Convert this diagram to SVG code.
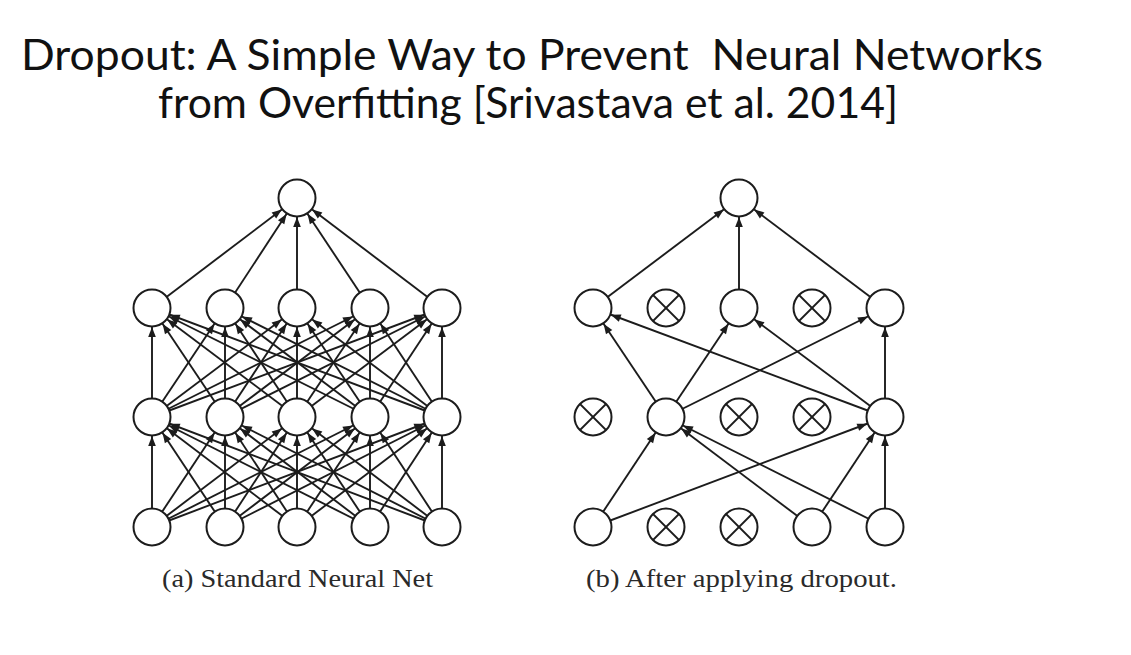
<svg xmlns="http://www.w3.org/2000/svg" width="1131" height="655" viewBox="0 0 1131 655">
<style>
.title{font-family:Lato,"Open Sans","Noto Sans",sans-serif;font-size:43px;fill:#111}
.cap{font-family:"Liberation Serif","DejaVu Serif",serif;font-size:25px;fill:#2a2a2a}
.e line{stroke:#1c1c1c;stroke-width:1.9;marker-end:url(#ah)}
.n{fill:#fff;stroke:#1c1c1c;stroke-width:2}
.x{stroke:#1c1c1c;stroke-width:1.8}
</style>
<defs>
<marker id="ah" markerUnits="userSpaceOnUse" viewBox="0 0 40 10" markerWidth="40" markerHeight="10" refX="40" refY="5" orient="auto">
<path d="M11 1.2 L21 5 L11 8.8 z" fill="#1c1c1c"/>
</marker>
<g id="drop"><circle class="n" r="18.5"/><line class="x" x1="-13" y1="-13" x2="13" y2="13"/><line class="x" x1="-13" y1="13" x2="13" y2="-13"/></g>
</defs>
<rect width="1131" height="655" fill="#fff"/>
<text class="title" x="21" y="70" textLength="1022" lengthAdjust="spacingAndGlyphs" xml:space="preserve">Dropout: A Simple Way to Prevent  Neural Networks</text>
<text class="title" x="158" y="118" textLength="740" lengthAdjust="spacingAndGlyphs">from Overfitting [Srivastava et al. 2014]</text>
<g id="connectors" class="e">
<!-- left: hidden1 -> output -->
<line x1="152" y1="308" x2="297" y2="198"/><line x1="225" y1="308" x2="297" y2="198"/><line x1="297" y1="308" x2="297" y2="198"/><line x1="370" y1="308" x2="297" y2="198"/><line x1="442" y1="308" x2="297" y2="198"/>
<!-- left: hidden2 -> hidden1 -->
<line x1="152" y1="417" x2="152" y2="308"/><line x1="152" y1="417" x2="225" y2="308"/><line x1="152" y1="417" x2="297" y2="308"/><line x1="152" y1="417" x2="370" y2="308"/><line x1="152" y1="417" x2="442" y2="308"/>
<line x1="225" y1="417" x2="152" y2="308"/><line x1="225" y1="417" x2="225" y2="308"/><line x1="225" y1="417" x2="297" y2="308"/><line x1="225" y1="417" x2="370" y2="308"/><line x1="225" y1="417" x2="442" y2="308"/>
<line x1="297" y1="417" x2="152" y2="308"/><line x1="297" y1="417" x2="225" y2="308"/><line x1="297" y1="417" x2="297" y2="308"/><line x1="297" y1="417" x2="370" y2="308"/><line x1="297" y1="417" x2="442" y2="308"/>
<line x1="370" y1="417" x2="152" y2="308"/><line x1="370" y1="417" x2="225" y2="308"/><line x1="370" y1="417" x2="297" y2="308"/><line x1="370" y1="417" x2="370" y2="308"/><line x1="370" y1="417" x2="442" y2="308"/>
<line x1="442" y1="417" x2="152" y2="308"/><line x1="442" y1="417" x2="225" y2="308"/><line x1="442" y1="417" x2="297" y2="308"/><line x1="442" y1="417" x2="370" y2="308"/><line x1="442" y1="417" x2="442" y2="308"/>
<!-- left: input -> hidden2 -->
<line x1="152" y1="527" x2="152" y2="417"/><line x1="152" y1="527" x2="225" y2="417"/><line x1="152" y1="527" x2="297" y2="417"/><line x1="152" y1="527" x2="370" y2="417"/><line x1="152" y1="527" x2="442" y2="417"/>
<line x1="225" y1="527" x2="152" y2="417"/><line x1="225" y1="527" x2="225" y2="417"/><line x1="225" y1="527" x2="297" y2="417"/><line x1="225" y1="527" x2="370" y2="417"/><line x1="225" y1="527" x2="442" y2="417"/>
<line x1="297" y1="527" x2="152" y2="417"/><line x1="297" y1="527" x2="225" y2="417"/><line x1="297" y1="527" x2="297" y2="417"/><line x1="297" y1="527" x2="370" y2="417"/><line x1="297" y1="527" x2="442" y2="417"/>
<line x1="370" y1="527" x2="152" y2="417"/><line x1="370" y1="527" x2="225" y2="417"/><line x1="370" y1="527" x2="297" y2="417"/><line x1="370" y1="527" x2="370" y2="417"/><line x1="370" y1="527" x2="442" y2="417"/>
<line x1="442" y1="527" x2="152" y2="417"/><line x1="442" y1="527" x2="225" y2="417"/><line x1="442" y1="527" x2="297" y2="417"/><line x1="442" y1="527" x2="370" y2="417"/><line x1="442" y1="527" x2="442" y2="417"/>
<!-- right network -->
<line x1="593" y1="308" x2="739" y2="198"/><line x1="739" y1="308" x2="739" y2="198"/><line x1="885" y1="308" x2="739" y2="198"/>
<line x1="666" y1="417" x2="593" y2="308"/><line x1="666" y1="417" x2="739" y2="308"/><line x1="666" y1="417" x2="885" y2="308"/>
<line x1="885" y1="417" x2="593" y2="308"/><line x1="885" y1="417" x2="739" y2="308"/><line x1="885" y1="417" x2="885" y2="308"/>
<line x1="593" y1="527" x2="666" y2="417"/><line x1="593" y1="527" x2="885" y2="417"/>
<line x1="812" y1="527" x2="666" y2="417"/><line x1="812" y1="527" x2="885" y2="417"/>
<line x1="885" y1="527" x2="666" y2="417"/><line x1="885" y1="527" x2="885" y2="417"/>
</g>
<g id="a-out"><circle class="n" cx="297" cy="198" r="18.5"/></g>
<g id="a-h1-1"><circle class="n" cx="152" cy="308" r="18.5"/></g>
<g id="a-h1-2"><circle class="n" cx="225" cy="308" r="18.5"/></g>
<g id="a-h1-3"><circle class="n" cx="297" cy="308" r="18.5"/></g>
<g id="a-h1-4"><circle class="n" cx="370" cy="308" r="18.5"/></g>
<g id="a-h1-5"><circle class="n" cx="442" cy="308" r="18.5"/></g>
<g id="a-h2-1"><circle class="n" cx="152" cy="417" r="18.5"/></g>
<g id="a-h2-2"><circle class="n" cx="225" cy="417" r="18.5"/></g>
<g id="a-h2-3"><circle class="n" cx="297" cy="417" r="18.5"/></g>
<g id="a-h2-4"><circle class="n" cx="370" cy="417" r="18.5"/></g>
<g id="a-h2-5"><circle class="n" cx="442" cy="417" r="18.5"/></g>
<g id="a-in-1"><circle class="n" cx="152" cy="527" r="18.5"/></g>
<g id="a-in-2"><circle class="n" cx="225" cy="527" r="18.5"/></g>
<g id="a-in-3"><circle class="n" cx="297" cy="527" r="18.5"/></g>
<g id="a-in-4"><circle class="n" cx="370" cy="527" r="18.5"/></g>
<g id="a-in-5"><circle class="n" cx="442" cy="527" r="18.5"/></g>
<g id="b-out"><circle class="n" cx="739" cy="198" r="18.5"/></g>
<g id="b-h1-1"><circle class="n" cx="593" cy="308" r="18.5"/></g>
<g id="b-h1-2"><use href="#drop" x="666" y="308"/></g>
<g id="b-h1-3"><circle class="n" cx="739" cy="308" r="18.5"/></g>
<g id="b-h1-4"><use href="#drop" x="812" y="308"/></g>
<g id="b-h1-5"><circle class="n" cx="885" cy="308" r="18.5"/></g>
<g id="b-h2-1"><use href="#drop" x="593" y="417"/></g>
<g id="b-h2-2"><circle class="n" cx="666" cy="417" r="18.5"/></g>
<g id="b-h2-3"><use href="#drop" x="739" y="417"/></g>
<g id="b-h2-4"><use href="#drop" x="812" y="417"/></g>
<g id="b-h2-5"><circle class="n" cx="885" cy="417" r="18.5"/></g>
<g id="b-in-1"><circle class="n" cx="593" cy="527" r="18.5"/></g>
<g id="b-in-2"><use href="#drop" x="666" y="527"/></g>
<g id="b-in-3"><use href="#drop" x="739" y="527"/></g>
<g id="b-in-4"><circle class="n" cx="812" cy="527" r="18.5"/></g>
<g id="b-in-5"><circle class="n" cx="885" cy="527" r="18.5"/></g>
<text class="cap" x="162" y="587" textLength="271" lengthAdjust="spacingAndGlyphs">(a) Standard Neural Net</text>
<text class="cap" x="586" y="587" textLength="311" lengthAdjust="spacingAndGlyphs">(b) After applying dropout.</text>
</svg>
